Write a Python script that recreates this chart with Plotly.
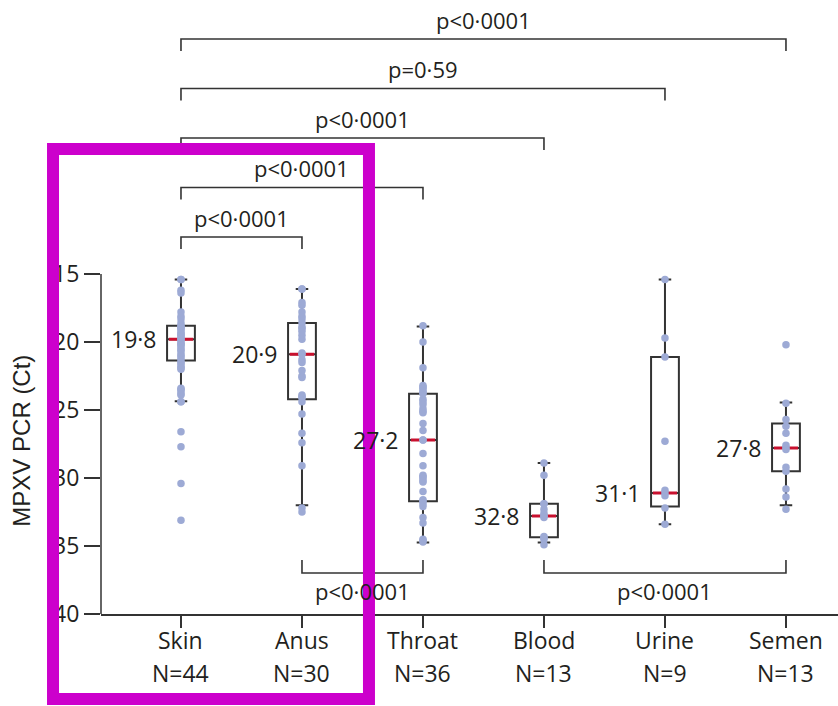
import plotly.graph_objects as go

categories = ["Skin", "Anus", "Throat", "Blood", "Urine", "Semen"]
sample_n = [44, 30, 36, 13, 9, 13]

skin_ct = [15.4, 15.4, 16.2, 16.4, 17.8, 18.1, 18.3, 18.6, 18.8, 18.9, 19.0, 19.1, 19.3, 19.4,
           19.5, 19.6, 19.8, 19.8, 20.0, 20.1, 20.2, 20.3, 20.5, 20.6, 20.8, 21.0, 21.1, 21.3,
           21.5, 21.6, 21.8, 21.9, 22.0, 23.4, 23.5, 23.6, 23.8, 23.9, 24.4, 24.4, 26.6, 27.7,
           30.4, 33.1]
anus_ct = [16.1, 16.1, 17.1, 17.3, 17.8, 18.1, 18.3, 18.6, 18.9, 19.0, 19.2, 19.5, 19.8, 20.8,
           20.9, 21.3, 21.5, 22.1, 22.5, 22.6, 23.9, 24.0, 24.1, 24.4, 25.3, 26.7, 27.4, 29.1,
           32.2, 32.5]
throat_ct = [18.8, 20.0, 21.9, 23.2, 23.3, 23.4, 23.6, 23.7, 23.8, 24.2, 24.4, 24.6, 24.9, 25.1,
             25.2, 26.0, 26.5, 27.2, 27.2, 28.2, 29.1, 29.8, 29.9, 30.0, 30.2, 30.3, 31.0, 31.6,
             31.7, 31.9, 32.1, 32.9, 33.3, 34.5, 34.6, 34.7]
blood_ct = [28.9, 29.8, 31.9, 31.9, 32.3, 32.6, 32.8, 32.8, 32.9, 34.3, 34.4, 34.5, 34.9]
urine_ct = [15.4, 19.7, 21.1, 27.3, 30.9, 31.1, 31.3, 32.2, 33.4]
semen_ct = [20.2, 24.5, 25.7, 26.2, 26.7, 27.6, 27.8, 27.9, 29.2, 29.5, 30.8, 31.4, 32.3]

box_q1 = [18.8, 18.6, 23.8, 31.9, 21.1, 26.0]
box_median = [19.8, 20.9, 27.2, 32.8, 31.1, 27.8]
box_q3 = [21.35, 24.2, 31.7, 34.35, 32.1, 29.5]
box_low = [15.4, 16.1, 18.85, 28.9, 15.4, 24.45]
box_high = [24.35, 32.0, 34.75, 34.75, 33.4, 32.0]

# comparisons (group a, group b, label)
top_comparisons = [("Skin", "Semen", "p<0·0001"), ("Skin", "Urine", "p=0·59"),
                   ("Skin", "Blood", "p<0·0001"), ("Skin", "Throat", "p<0·0001"),
                   ("Skin", "Anus", "p<0·0001")]
bottom_comparisons = [("Anus", "Throat", "p<0·0001"), ("Blood", "Semen", "p<0·0001")]

ink = "#231F20"
line_c = "#333333"
dot_c = "#9DAAD5"
red_c = "#C8102E"
font_family = "Open Sans, Noto Sans, sans-serif"

series = [skin_ct, anus_ct, throat_ct, blood_ct, urine_ct, semen_ct]

fig = go.Figure()

fig.add_trace(go.Box(
    x=categories, q1=box_q1, median=box_median, q3=box_q3,
    lowerfence=box_low, upperfence=box_high,
    width=0.23, whiskerwidth=0.45, boxpoints=False,
    line=dict(color=line_c, width=2), fillcolor="rgba(0,0,0,0)",
    showlegend=False))

# red median drawn as a degenerate box over the box median line
fig.add_trace(go.Box(
    x=categories, q1=box_median, median=box_median, q3=box_median,
    lowerfence=box_median, upperfence=box_median,
    width=0.20, whiskerwidth=0, boxpoints=False,
    line=dict(color=red_c, width=3), fillcolor="rgba(0,0,0,0)",
    hoverinfo="skip", showlegend=False))

for cat, vals in zip(categories, series):
    fig.add_trace(go.Scatter(
        x=[cat] * len(vals), y=vals, mode="markers",
        marker=dict(color=dot_c, size=7.5), showlegend=False, cliponaxis=False))

shapes = []
annotations = []

# y axis line only from 15 to 40
shapes.append(dict(type="line", xref="paper", yref="y", x0=0, x1=0, y0=15, y1=40,
                   line=dict(color=line_c, width=1.5)))

# top brackets
level0, step, drop, lab_off = -2.28, 3.64, 0.88, 1.42
for i, (a, b, lab) in enumerate(top_comparisons):
    yl = level0 + i * step
    xa, xb = categories.index(a), categories.index(b)
    shapes.append(dict(type="path", xref="x", yref="y",
                       path=f"M {xa},{yl + drop} L {xa},{yl} L {xb},{yl} L {xb},{yl + drop}",
                       line=dict(color=line_c, width=1.6)))
    annotations.append(dict(x=(xa + xb) / 2, y=yl - lab_off, xref="x", yref="y", text=lab,
                            showarrow=False, font=dict(size=22, color=ink, family=font_family),
                            xanchor="center", yanchor="middle"))

# bottom brackets
b_top, b_bot, b_lab = 36.03, 36.98, 38.3
for a, b, lab in bottom_comparisons:
    xa, xb = categories.index(a), categories.index(b)
    shapes.append(dict(type="path", xref="x", yref="y",
                       path=f"M {xa},{b_top} L {xa},{b_bot} L {xb},{b_bot} L {xb},{b_top}",
                       line=dict(color=line_c, width=1.6)))
    annotations.append(dict(x=(xa + xb) / 2, y=b_lab, xref="x", yref="y", text=lab,
                            showarrow=False, font=dict(size=22, color=ink, family=font_family),
                            xanchor="center", yanchor="middle"))

# median labels
for i, m in enumerate(box_median):
    annotations.append(dict(x=i, y=m, xref="x", yref="y", text=f"{m:.1f}".replace(".", "·"),
                            showarrow=False, xanchor="right", yanchor="middle", xshift=-22,
                            font=dict(size=23, color=ink, family=font_family)))

# category labels (two lines)
for i, (c, n) in enumerate(zip(categories, sample_n)):
    annotations.append(dict(x=i, y=-0.0423, xref="x", yref="paper", text=c, showarrow=False,
                            xanchor="center", yanchor="middle",
                            font=dict(size=23, color=ink, family=font_family)))
    annotations.append(dict(x=i, y=-0.0961, xref="x", yref="paper", text=f"N={n}",
                            showarrow=False, xanchor="center", yanchor="middle",
                            font=dict(size=23, color=ink, family=font_family)))

# y axis title
annotations.append(dict(x=-0.108, y=0.283, xref="paper", yref="paper", text="MPXV PCR (Ct)",
                        textangle=-90, showarrow=False, xanchor="center", yanchor="middle",
                        font=dict(size=24, color=ink,
                                  family="Liberation Sans, Arial, sans-serif")))

# highlight rectangle
shapes.append(dict(type="rect", xref="paper", yref="paper", x0=-0.0651, x1=0.3636,
                   y0=-0.1384, y1=0.7573, line=dict(color="#CC00CC", width=12),
                   fillcolor="rgba(0,0,0,0)", layer="above"))

fig.update_layout(
    width=838, height=706,
    margin=dict(l=101, r=0, t=0, b=92),
    paper_bgcolor="white", plot_bgcolor="white",
    boxmode="overlay",
    font=dict(family=font_family, color=ink, size=23),
    shapes=shapes, annotations=annotations,
    xaxis=dict(type="category", range=[-0.661, 5.43], tickmode="array",
               tickvals=categories, showticklabels=False,
               showline=True, linecolor=line_c, linewidth=1.5,
               ticks="outside", ticklen=12, tickwidth=1.5, tickcolor=line_c,
               showgrid=False, zeroline=False),
    yaxis=dict(range=[40, -5.15], tickmode="array", tickvals=[15, 20, 25, 30, 35, 40],
               showline=False, ticks="outside", ticklen=16, tickwidth=1.5, tickcolor=line_c,
               showgrid=False, zeroline=False,
               tickfont=dict(size=23, color=ink, family=font_family)),
)

fig.write_html("out.html")
